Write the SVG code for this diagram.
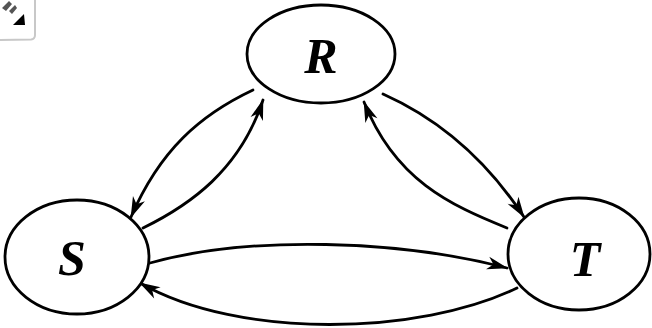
<svg xmlns="http://www.w3.org/2000/svg" width="652" height="328" viewBox="0 0 652 328">
  <style>
    .node { fill: #ffffff; stroke: #000000; stroke-width: 2.8; }
    .label { font-family: "Liberation Serif", "Times New Roman", serif; font-weight: bold; font-style: italic; font-size: 50px; fill: #000000; text-anchor: middle; }
    .edge { fill: none; stroke: #000000; stroke-width: 2.8; stroke-linecap: round; marker-end: url(#arrow); }
  </style>
  <defs>
    <marker id="arrow" markerUnits="userSpaceOnUse" orient="auto" refX="0" refY="0" overflow="visible">
      <path d="M1,0 L-20,-6.5 L-14,0 L-20,6.5 Z" fill="#000000"/>
    </marker>
  </defs>
  <rect width="652" height="328" fill="#ffffff"/>
  <g id="icon">
    <path d="M35,0 L35,35 Q35,39 31,39.5 L0,40" fill="none" stroke="#c8c8c8" stroke-width="2"/>
    <path d="M2,8 L9,1 L12,4 L6,11 Z M9,11 L15,5 L17,8 L12,14 Z" fill="#555555"/>
    <path d="M13,25 L24,14 L25,25 Z" fill="#000000"/>
  </g>
  <g id="connectors">
    <path class="edge" d="M253,90 C200,115 160,150 131,217"/>
    <path class="edge" d="M143,228 C190,205 240,170 263,100"/>
    <path class="edge" d="M383,94 C430,115 480,150 524,217"/>
    <path class="edge" d="M507,228 C450,205 395,180 364,102"/>
    <path class="edge" d="M150,263 C250,235 400,240 507,268"/>
    <path class="edge" d="M517,288 C420,335 240,340 140,283"/>
  </g>
  <g id="node-R">
    <ellipse class="node" cx="321" cy="54" rx="74" ry="49"/>
    <text class="label" x="321" y="73">R</text>
  </g>
  <g id="node-S">
    <ellipse class="node" cx="77" cy="257" rx="72" ry="57"/>
    <text class="label" x="72" y="275">S</text>
  </g>
  <g id="node-T">
    <ellipse class="node" cx="579" cy="254" rx="71" ry="56"/>
    <text class="label" x="585" y="276">T</text>
  </g>
</svg>
